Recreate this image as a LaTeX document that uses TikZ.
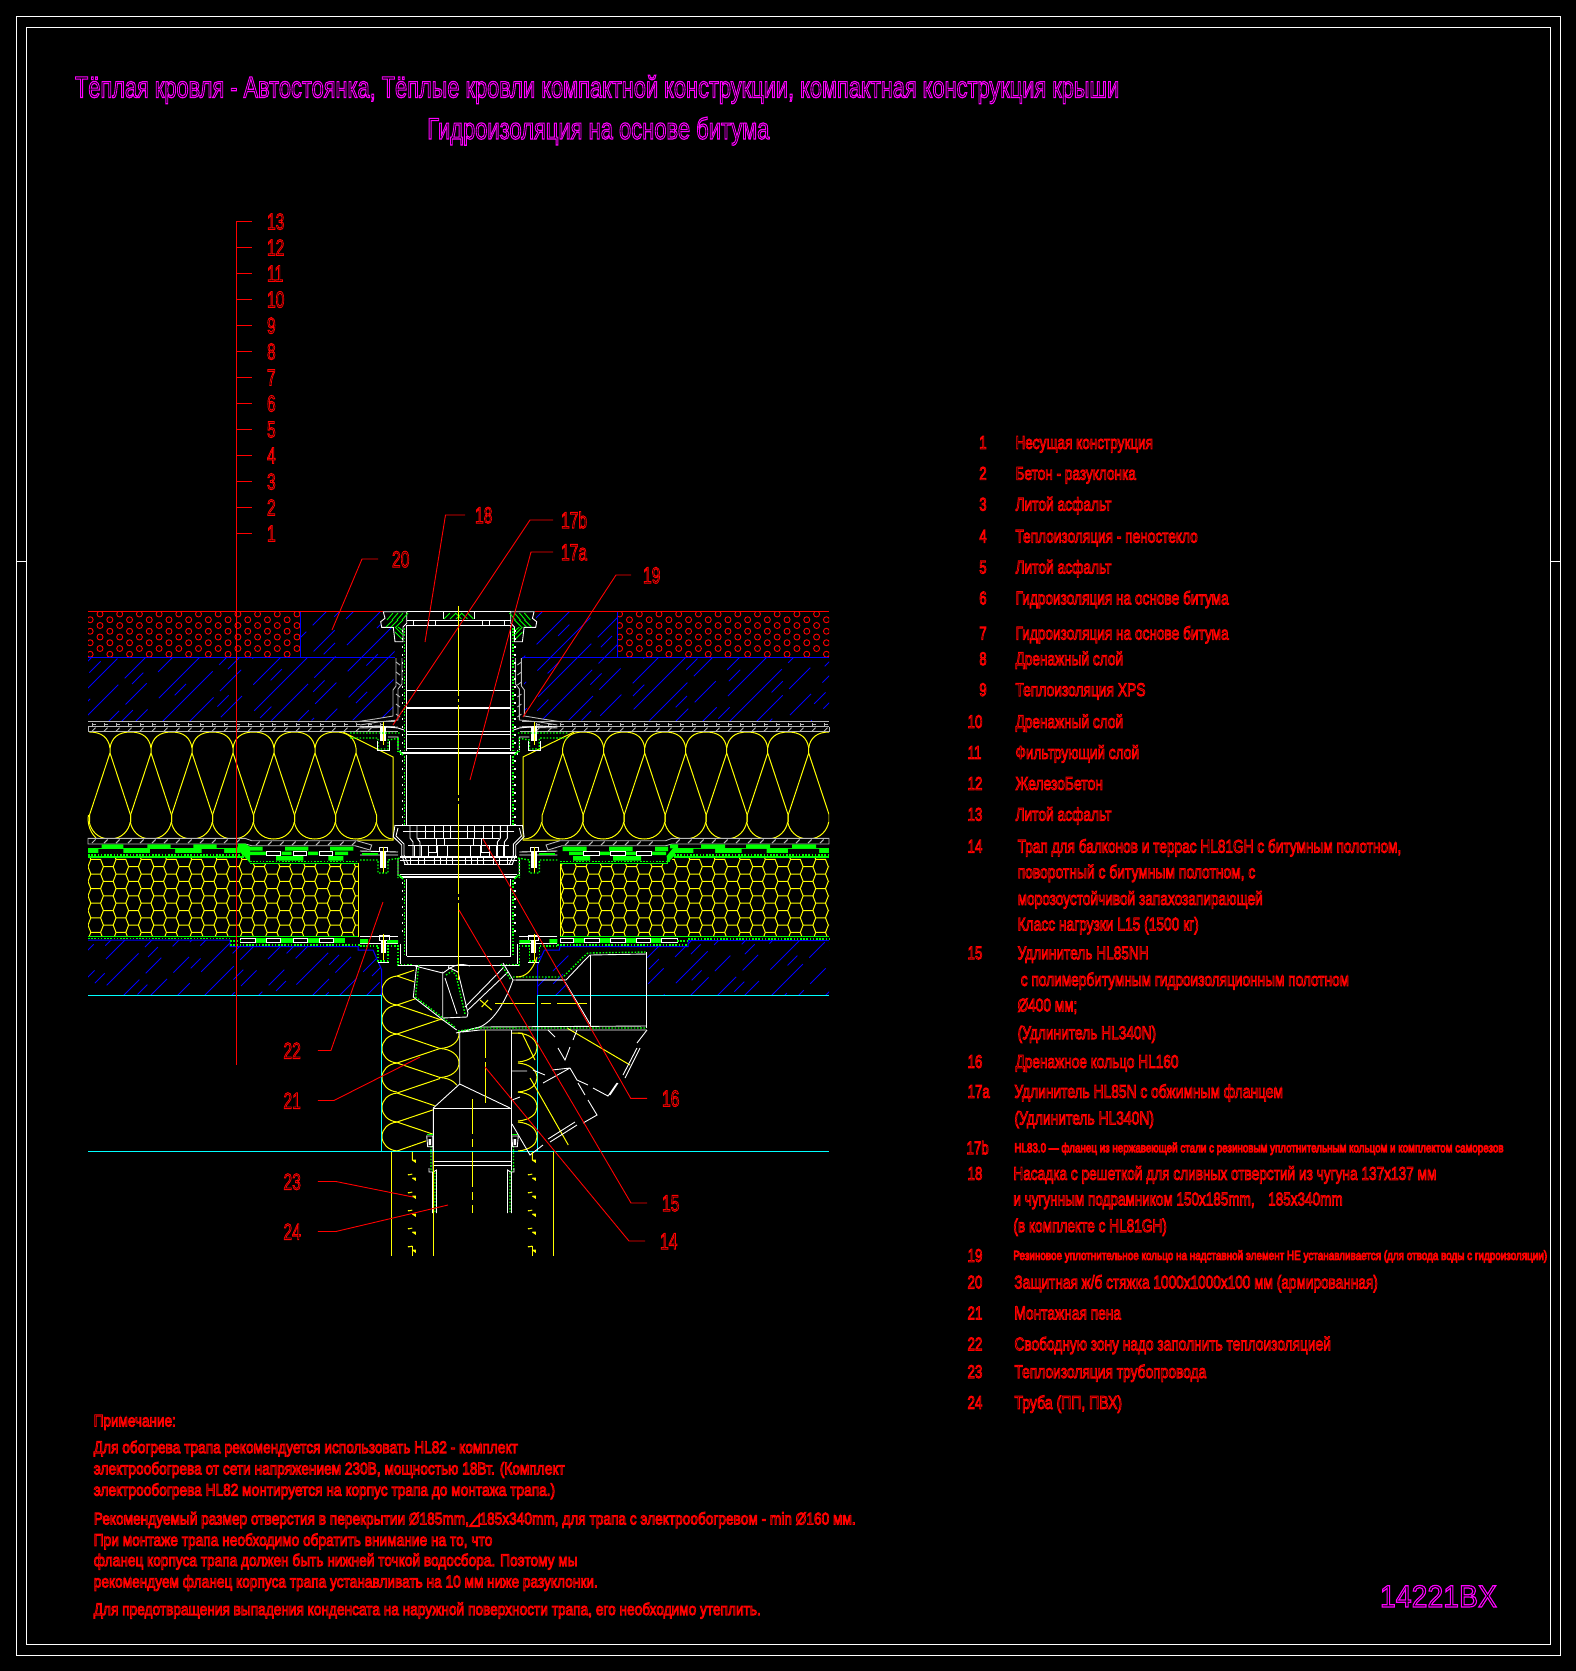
\documentclass[tikz,border=0pt]{standalone}
\usepackage{fontspec}
\usepackage{graphicx}
\setmainfont{Liberation Sans}
\newfontfamily\djv{DejaVu Sans}
\definecolor{cred}{rgb}{1,0,0}
\definecolor{cmag}{rgb}{1,0,1}
\definecolor{cgrn}{rgb}{0,1,0}
\definecolor{cyel}{rgb}{1,1,0}
\definecolor{cblu}{rgb}{0,0,1}
\definecolor{ccya}{rgb}{0,1,1}
\definecolor{cgry}{gray}{0.72}
\newcommand\olon{\special{pdf:code 1 Tr 0.95 w}}
\newcommand\olbig{\special{pdf:code 1 Tr 1.15 w}}
\newcommand\oloff{\special{pdf:code 0 Tr}}
\newlength\du \du=1.0656pt
\tikzset{
 wh/.style={draw=white,line width=.9pt},
 wk/.style={draw=white,line width=2pt},
 gn/.style={draw=cgrn,line width=.9pt},
 gd/.style={draw=cgrn,line width=1.4pt,dash pattern=on 1.6pt off 1.6pt},
 wr/.style={draw=white,line width=.9pt,fill=black},
 yl/.style={draw=cyel,line width=1pt},
 gy/.style={draw=cgry,line width=.9pt},
 bl/.style={draw=cblu,line width=.8pt},
 cy/.style={draw=ccya,line width=.9pt},
 rd/.style={draw=cred,line width=.9pt},
 leader/.style={draw=cred,line width=.9pt},
 txt/.style={inner sep=0pt,outer sep=0pt,text=cred,anchor=base west},
}
\newcommand\TL[4]{\node[txt] at ({#1*1.0656},{#2*1.0656+6.6}) {\resizebox{\dimexpr#3\du-#1\du\relax}{\height}{\fontsize{18.5}{20}\selectfont\olon #4\oloff}};}
\newcommand\TS[4]{\node[txt] at ({#1*1.0656},{#2*1.0656+4.6}) {\resizebox{\dimexpr#3\du-#1\du\relax}{\height}{\fontsize{13}{15}\selectfont\olon #4\oloff}};}
\newcommand\TN[4]{\node[txt] at ({#1*1.0656},{#2*1.0656+6}) {\resizebox{\dimexpr#3\du-#1\du\relax}{\height}{\fontsize{17}{19}\selectfont\olon #4\oloff}};}
\newcommand\NUM[3]{\node[txt] at ({#1*1.0656},{#2*1.0656+6.6}) {\scalebox{.72}[1]{\fontsize{18.5}{20}\selectfont\olon #3\oloff}};}
\newcommand\BIG[4]{\node[txt] (#1) at (#2,#3+8.2) {\scalebox{.68}[1]{\fontsize{23}{25}\selectfont\olon #4\oloff}};}
% batting loops between necks
\newcommand\toparc[2]{\draw[yl] (#1,748) .. controls (#1+1.5,738) and (#1+8,732) .. (#1+20.5,732) .. controls (#2-8,732) and (#2-1.5,738) .. (#2,748);}
\newcommand\botarc[2]{\draw[yl] (#1,822) .. controls (#1+1.5,830) and (#1+8,839) .. (#1+20.5,839) .. controls (#2-8,839) and (#2-1.5,830) .. (#2,822);}
\newcommand\strands[1]{\draw[yl] (#1-20.5,822) -- (#1-20.5,815) -- (#1,753) -- (#1,748) (#1,753) -- (#1+20.5,815) -- (#1+20.5,822);}
% hexagon field
\newcommand\hexfield[3]{\foreach \cc in {0,...,#1}{\foreach \rr in {0,...,6}{%
 \pgfmathsetmacro\cxx{#2+\cc*12.6}\pgfmathsetmacro\cyy{#3+\rr*14.6+7.3*mod(\cc,2)}%
 \draw[yl] (\cxx-4.9,\cyy-7.3) -- (\cxx+4.9,\cyy-7.3) -- (\cxx+7.7,\cyy) -- (\cxx+4.9,\cyy+7.3);}}}
\newcommand\grayrow[4]{\foreach \xx in {#1,#4,...,#2}{\draw[gy] (\xx,#3+3.6) -- (\xx+3.6,#3);}}
% half of the drain body (left half, mirrored for the right)
\newcommand\halfdrain{%
 \draw[wh] (383.3,611.7) -- (385,618.3) -- (380.7,621.7) -- (381.7,627.3) -- (393.3,627.3) -- (395,641.7) -- (403,641.7) -- (403,627) -- (406.7,623.3) -- (406.7,611.7) -- cycle;
 \foreach \xx in {388,393,398,403}{\draw[gn] (\xx-1,620) -- (\xx+5,613);}
 \foreach \xx in {386,391,396}{\draw[gn] (\xx,627) -- (\xx+7,620);}
 \draw[gn] (395,632) -- (403,640) (395,627) -- (403,635) (398,627) -- (403,631);
 \draw[wh] (406.7,611.7) -- (458.7,611.7) (406.7,620) -- (458.7,620) (406.7,625) -- (458.7,625);
 \foreach \xx in {413,428,435}{\draw[wh] (\xx,620) -- (\xx,625);}
 \draw[wh] (443.3,612) -- (443.3,619);
 \foreach \xx in {444,450,456}{\draw[gn] (\xx,619) -- (\xx+6,613);}
 % sleeve
 \draw[gy] (396,658) -- (396,686) -- (393,690) -- (393,716) -- (375,719) -- (355,722);
 \draw[gy] (402,658) -- (402,684) -- (398,689) -- (398,720) -- (378,722) -- (360,725);
 \foreach \yy in {662,672,682,694,704,714}{\draw[gy] (396,\yy) -- (400,\yy+3);}
 % walls with thread scallops
 \draw[wh] (406.7,625) -- (406.7,751) (406.7,755) -- (406.7,825) (406.7,879) -- (406.7,956);
 \draw[gd] (404.3,628) -- (404.3,750) (404.3,756) -- (404.3,825) (404.3,880) -- (404.3,956);
 \draw[draw=white,line width=1.6pt,dash pattern=on 2pt off 6pt] (402.5,630) -- (402.5,750) (402.5,760) -- (402.5,825) (402.5,882) -- (402.5,935);
 % full-width bars
 \draw[wh] (406.7,690) -- (458.7,690) (406.7,731.7) -- (458.7,731.7) (406.7,734) -- (458.7,734) (406.7,748.3) -- (458.7,748.3);
 \draw[wk] (406.7,708.3) -- (458.7,708.3) (400,752.5) -- (458.7,752.5) (400,877) -- (458.7,877);
 \draw[wh] (400,874.5) -- (458.7,874.5) (400,750) -- (400,755);
 \draw[gn,line width=1.5pt] (399,751) -- (403,755) (399,875) -- (403,879);
 % first clamp
 \draw[gy] (360,728) -- (398,727);
 \draw[wh] (360,727) -- (378,726) -- (398,728) -- (404,730) (388,737) -- (398,737) -- (398,750);
 \fill[white] (380,727) rectangle (386,741);
 \draw[yl] (383.3,722) -- (383.3,745);
 \draw[gd] (350,733) -- (400,733) (350,738) -- (378,738) -- (378,749) -- (388,749) -- (388,740) -- (400,738);
 \draw[gd] (398,738) -- (398,752);
 \draw[wh] (377,741) -- (377,750) -- (389,750) -- (389,741);
 % grating
 \draw[wh] (395,825) -- (393.3,836.7) -- (401.7,845) -- (401.7,855) -- (405,864);
 \draw[wh] (398,828) -- (396,836) -- (404,844) -- (404,855) -- (408,864);
 \draw[wh] (395,825) -- (458.7,825) (403,831.7) -- (458.7,831.7) (418,838) -- (458.7,838) (408,845) -- (458.7,845);
 \draw[wh,line width=1.2pt] (400,857) -- (458.7,857);
 \draw[wh] (400,860) -- (458.7,860) (404,864) -- (458.7,864);
 \foreach \xx in {410,417}{\draw[wh] (\xx,825) -- (\xx,838) -- (\xx+3,842) -- (\xx+3,856);}
 \foreach \xx in {425,434,443,450}{\draw[wh] (\xx,825) -- (\xx,838);}
 \foreach \xx in {414,421,428,437,447}{\draw[wh] (\xx,845) -- (\xx,856);}
 \foreach \xx in {410,418,424,434,440,446,452}{\draw[wh] (\xx,858) -- (\xx,864);}
 \draw[wr] (436,838) rectangle (444,845) (428,845) rectangle (436,852);
 % second clamp
 \draw[wh] (360,851) -- (398,852) (360,855) -- (398,855) (398,858) -- (398,876);
 \fill[cgrn] (362,852.5) rectangle (378,855);
 \fill[white] (380,851) rectangle (386,868);
 \draw[wh] (379,847) rectangle (387,851);
 \draw[yl] (383.3,847) -- (383.3,873);
 \draw[gd] (360,860) -- (378,860) -- (378,873) -- (388,873) -- (388,860) -- (400,858) (398,858) -- (398,878);
 % third clamp
 \draw[wh] (360,936) -- (398,936) (379,935) rectangle (389,940) (360,943.5) -- (398,943.5);
 \fill[cgrn] (360,939) rectangle (368,943) (387,940) rectangle (398,943);
 \fill[white] (381,941) rectangle (386,953);
 \draw[yl] (383,934) -- (383,961);
 \draw[gd] (360,946) -- (378,946) -- (378,961) -- (388,961) -- (388,946) -- (398,946) -- (398,965) -- (413,965);
 \draw[wh] (378,962) -- (389,962) (400,943.5) -- (400,964);
 \draw[wh] (406.7,956.7) -- (458.7,956.7) (398,965) -- (458.7,965);
}
\begin{document}
\begin{tikzpicture}[x=1pt,y=-1pt,line cap=butt]
\useasboundingbox (0,0) rectangle (1576,1671);
\fill[black] (0,0) rectangle (1576,1671);
% ---- frames
\draw[wh,line width=1.2pt] (16.5,16.5) rectangle (1560.7,1655.3);
\draw[wh,line width=1.2pt] (26.5,27.5) rectangle (1550.3,1644.3);
\draw[wh] (16.5,561) -- (26.5,561) (1550.3,561) -- (1560.7,561);
% ---- red aggregate
\begin{scope}
 \clip (88,611.5) rectangle (300,657) (617.4,611.5) rectangle (829,657);
 \foreach \rr in {0,...,7}{
  \pgfmathsetmacro\yy{614+\rr*5.75}
  \pgfmathsetmacro\ss{mod(\rr,2)*(-9.85)}
  \foreach \jj in {0,...,11}{\draw[rd] ({100+\ss+\jj*19.7},\yy) circle (3);}
  \foreach \jj in {0,...,11}{\draw[rd] ({619.6+\ss+\jj*19.7},\yy) circle (3);}
 }
\end{scope}
% ---- blue hatch, upper
\begin{scope}
 \clip (300,612) -- (382,612) -- (380,628) -- (393,628) -- (395,657) -- (393,690) -- (393,716) -- (370,720) -- (88,722) -- (88,657) -- (300,657) -- cycle
       (617.4,612) -- (535.4,612) -- (537.4,628) -- (524.4,628) -- (522.4,657) -- (524.4,690) -- (524.4,716) -- (547.4,720) -- (829,722) -- (829,657) -- (617.4,657) -- cycle;
 \foreach \ii in {0,...,36}{
  \pgfmathsetmacro\xa{-30+\ii*27}
  \pgfmathsetmacro\ph{mod(\ii*37,130)}
  \pgfmathsetmacro\pq{mod(\ii*53,90)}
  \draw[bl,dash pattern=on 75pt off 9pt on 30pt off 16pt,dash phase=\ph pt] (\xa,725) -- (\xa+120,605);
  \draw[bl,dash pattern=on 16pt off 74pt,dash phase=\pq pt] (\xa+13,725) -- (\xa+133,605);
 }
\end{scope}
% ---- blue hatch, lower
\begin{scope}
 \clip (88,940) -- (230,940) -- (230,947) -- (358,947) -- (358,950) -- (373,950) -- (381.7,970) -- (381.7,995) -- (88,995) -- cycle
       (537.7,946) -- (582,946) -- (582,960) -- (563,980) -- (575,995) -- (537.7,995) -- cycle
       (647,946) -- (688,946) -- (688,941) -- (829,941) -- (829,995) -- (647,995) -- cycle;
 \foreach \ii in {0,...,34}{
  \pgfmathsetmacro\xa{40+\ii*27}
  \pgfmathsetmacro\ph{mod(\ii*37,130)}
  \pgfmathsetmacro\pq{mod(\ii*53,90)}
  \draw[bl,dash pattern=on 45pt off 9pt on 22pt off 16pt,dash phase=\ph pt] (\xa,998) -- (\xa+65,933);
  \draw[bl,dash pattern=on 14pt off 60pt,dash phase=\pq pt] (\xa+13,998) -- (\xa+78,933);
 }
\end{scope}
% ---- lines of layers
\draw[rd] (88,611.3) -- (383,611.3) (535,611.3) -- (829,611.3);
\draw[bl,line width=1pt] (88,657.3) -- (395,657.3) (522,657.3) -- (829,657.3) (300,611.5) -- (300,657.3) (617.4,611.5) -- (617.4,657.3);
\draw[bl,line width=1pt] (88,940) -- (230,940) -- (230,946.7) -- (358,946.7) -- (358,950) -- (373,950) -- (381.7,970) -- (381.7,995);
\draw[bl,line width=1pt] (829,940.7) -- (688,940.7) -- (688,946.7) -- (560,946.7) -- (559.4,950) -- (544.4,950) -- (537.7,965) -- (537.7,995);
\draw[cy] (88,995.3) -- (381.7,995.3) -- (381.7,1151.5) (537.7,995.3) -- (829,995.3) (537.7,995.3) -- (537.7,1151.5) (88,1151.5) -- (829,1151.5);
% ---- insulation batting
\begin{scope}
 \clip (88,730) rectangle (395,842) (522,730) rectangle (829,842);
 \foreach \aa [evaluate=\aa as \bb using \aa+41] in {110,151,192,233,274,315}{\toparc{\aa}{\bb}}
 \foreach \aa [evaluate=\aa as \bb using \aa+41] in {89.3,130.3,171.3,212.3,253.3,294.3,335.3}{\botarc{\aa}{\bb}}
 \foreach \aa in {110,151,192,233,274,315,356}{\strands{\aa}}
 \draw[yl] (110,748) .. controls (108.5,738) and (102,732) .. (89.5,732);
 \draw[yl] (376.3,822) .. controls (378,830) and (384,839) .. (393,839);
 \foreach \aa [evaluate=\aa as \bb using \aa+41] in {562.7,603.7,644.7,685.7,726.7,767.7}{\toparc{\aa}{\bb}}
 \foreach \aa [evaluate=\aa as \bb using \aa+41] in {541.7,582.7,623.7,664.7,705.7,746.7,787.7}{\botarc{\aa}{\bb}}
 \foreach \aa in {562.7,603.7,644.7,685.7,726.7,767.7,808.7}{\strands{\aa}}
 \draw[yl] (808.7,748) .. controls (810,738) and (817,732) .. (829,732);
 \draw[yl] (541.7,822) .. controls (540,830) and (534,839) .. (524,839);
\end{scope}
\draw[yl] (88.5,815) .. controls (87.5,820) and (88,830) .. (96,838);
\draw[yl] (343,732) -- (393,757) -- (393,840) -- (357,840);
\draw[yl] (574,732) -- (523,757) -- (523,840) -- (560,840);
% ---- gray layers
\draw[gy] (88,721.7) -- (395,721.7) (88,726.5) -- (395,726.5) (88,731.7) -- (398,731.7) (88,726.5) -- (88,731.7);
\draw[gy] (522,721.7) -- (829,721.7) (522,726.5) -- (829,726.5) (520,731.7) -- (829,731.7) (829,726.5) -- (829,731.7);
\grayrow{92}{380}{727.6}{104}
\grayrow{536}{824}{727.6}{548}
\foreach \xx in {92,104,...,380}{\draw[gy] (\xx,725.5) -- (\xx,722.5) (\xx,724) -- (\xx+4,724);}
\foreach \xx in {536,548,...,824}{\draw[gy] (\xx,725.5) -- (\xx,722.5) (\xx,724) -- (\xx+4,724);}
\draw[gy,fill=black] (88,838.3) -- (245,838.3) -- (251.7,840.7) -- (356.7,840.7) -- (371.7,845) -- (370,850) -- (355,845.7) -- (251.7,845.7) -- (245,844) -- (88,844) -- cycle;
\grayrow{92}{240}{839.5}{104}
\grayrow{256}{352}{841.5}{268}
\draw[gy,fill=black] (829,838.3) -- (672,838.3) -- (665.7,840.7) -- (560,840.7) -- (546,845) -- (548,850) -- (562,845.7) -- (665.7,845.7) -- (672,844) -- (829,844) -- cycle;
\grayrow{676}{825}{839.5}{688}
\grayrow{565}{660}{841.5}{577}
% ---- hexagons
\begin{scope}
 \clip (88,857) -- (245,857) -- (250,863) -- (358,863) -- (358,936.5) -- (88,936.5) -- cycle;
 \hexfield{22}{83.1}{859.4}
\end{scope}
\begin{scope}
 \clip (560,863) -- (668,863) -- (675,857) -- (829,857) -- (829,936.5) -- (560,936.5) -- cycle;
 \hexfield{22}{556}{859.4}
\end{scope}
\draw[yl] (358,863) -- (358,936.5) (560,863) -- (560,936.5);
% ---- green membrane upper, left
\fill[cgrn] (88,848.3) rectangle (240,853.3);
\fill[black] (98.3,849) rectangle (123.3,853.3) (150,849) rectangle (175,853.3) (201.7,849) rectangle (224,853.3);
\fill[cgrn] (101.7,844.3) rectangle (123.3,848.3) (147.3,844.3) rectangle (170.7,848.3) (193.3,844.3) rectangle (216.7,848.3);
\fill[cgrn] (238.3,843.5) -- (245,843.5) -- (250,846.7) -- (250,863) -- (244,856) -- (237,849) -- cycle;
\draw[gd] (88,855) -- (244,855);
\draw[gn,line width=1.2pt] (88,857) -- (244,857);
\fill[cgrn] (250,846.7) rectangle (262.7,850.7) (285,846.7) rectangle (308.3,850.7) (330,846.7) rectangle (353.3,850.7);
\fill[cgrn] (250,851.7) rectangle (266.7,855) (281.7,851.7) rectangle (291.7,855) (308,851.7) rectangle (318,855) (335,851.7) rectangle (348,855);
\draw[wr] (266.7,851.7) rectangle (280,855) (293.3,851.7) rectangle (306.7,855) (319.3,851.7) rectangle (332.7,855);
\fill[cgrn] (276,856) rectangle (303.3,860.7) (328.3,856) rectangle (343.3,860.7);
\draw[gd] (250,861.5) -- (358,861.5);
\draw[gn,line width=1.2pt] (250,863.4) -- (358,863.4);
% ---- green membrane upper, right
\fill[cgrn] (674,848.3) rectangle (829,853.3);
\fill[black] (693.3,848.8) rectangle (715,853) (741.7,848.8) rectangle (766.7,853) (788,848.8) rectangle (819,853);
\fill[cgrn] (670,844.3) rectangle (678,848.3) (701,844.3) rectangle (725,848.3) (746,844.3) rectangle (770,848.3) (792,844.3) rectangle (816,848.3);
\fill[cgrn] (666.7,856) -- (675,845.5) -- (675,855) -- (667,863.4) -- cycle;
\draw[gd] (674,855) -- (829,855);
\draw[gn,line width=1.2pt] (674,857) -- (829,857);
\fill[cgrn] (562.7,846.7) rectangle (586.7,851) (609,846.7) rectangle (632.7,851) (655,846.7) rectangle (668,851);
\fill[cgrn] (569,851.7) rectangle (583.3,855) (599.3,851.7) rectangle (610,855) (625.3,851.7) rectangle (636,855) (651.7,851.7) rectangle (666,855);
\draw[wr] (583.3,851.7) rectangle (599.3,855) (610,851.7) rectangle (625.3,855) (636,851.7) rectangle (651.7,855);
\fill[cgrn] (573,856) rectangle (590,860.7) (613,856) rectangle (641,860.7);
\draw[gd] (560,861.5) -- (670,861.5);
\draw[gn,line width=1.2pt] (560,863.4) -- (668,863.4);
% ---- green membrane lower, left
\draw[gn,line width=1.2pt] (88,936.5) -- (358,936.5);
\draw[gd] (88,938.6) -- (230,938.6);
\fill[cgrn] (240,938.3) rectangle (345,942.7);
\draw[wr] (240,938.3) rectangle (255,942.7) (266.7,938.3) rectangle (280.7,942.7) (293.3,938.3) rectangle (307.3,942.7) (319.3,938.3) rectangle (333.3,942.7);
\draw[gd] (230,941) -- (240,941) (230,945) -- (360,945);
% ---- green membrane lower, right
\draw[gn,line width=1.2pt] (560,936.7) -- (829,936.7);
\draw[gd] (688,938.8) -- (829,938.8);
\fill[cgrn] (560,938) rectangle (677,942.7);
\draw[wr] (560,938) rectangle (573,942.7) (584,938) rectangle (599.3,942.7) (610,938) rectangle (625,942.7) (636,938) rectangle (650.7,942.7) (661.7,938) rectangle (677.3,942.7);
\draw[gd] (677,941) -- (688,941) (557,945) -- (688,945);
% ---- drain body, both halves
\halfdrain
\begin{scope}[shift={(917.4,0)},xscale=-1]
 \halfdrain
\end{scope}
% ---- lower insulation (horizontal batting)
\begin{scope}
 \clip (382,966) -- (414,966) -- (414,998) -- (441,1018) -- (459,1032) -- (459,1083) -- (433,1107) -- (433,1134) -- (426,1136) -- (426,1151) -- (382,1151) -- cycle;
 \foreach \yy in {976,1005,1034,1063,1093,1122}{
  \draw[yl] (397,\yy) .. controls (388,\yy+1) and (382,\yy+7) .. (382,\yy+14.5) .. controls (382,\yy+22) and (388,\yy+28) .. (397,\yy+29);
  \draw[yl] (397,\yy) -- (440,\yy-14.5) (397,\yy) -- (440,\yy+14.5);
  \draw[yl] (440,\yy+14.5) .. controls (451,\yy+15) and (459,\yy+21) .. (459,\yy+29) .. controls (459,\yy+37) and (451,\yy+43) .. (440,\yy+43.5);
 }
 \draw[yl] (397,1151) -- (440,1136);
\end{scope}
% ---- right-hand narrow insulation
\begin{scope}
 \clip (512,1030) rectangle (538,1151);
 \foreach \yy in {1033,1063,1092,1122}{
  \draw[yl] (518,\yy) .. controls (530,\yy+1) and (537,\yy+7) .. (537,\yy+15) .. controls (537,\yy+22) and (530,\yy+28) .. (518,\yy+29);
 }
\end{scope}
\draw[yl] (512,1033) -- (522,1033) -- (535,1060) (530,1078) -- (537,1090) -- (568.3,1145);
\draw[yl] (567,1028) -- (630,1065);
% ---- funnel, trap and branch
\draw[wh] (416.7,965) -- (413.3,997) -- (443,1020) -- (456.7,1030);
\draw[gd] (418.7,965) -- (415.5,997) -- (443,1018) -- (456,1028);
\draw[wh] (442.7,971.7) -- (442.7,1018) -- (467,1017);
\draw[wh] (415,966) -- (442.7,973);
\draw[wh] (443,973) -- (450,968) -- (458,972) -- (468,1013) -- (467,1017);
\draw[gd] (446,975) -- (452,971) -- (456,975) -- (465,1014);
\draw[wh] (445,978) -- (457,1014);
\draw[wh] (465,1007) -- (503,968) (468,1010) -- (508,972);
\draw[wh] (449,965) .. controls (447,975) and (452,960) .. (470,966);
\draw[wh] (503,963) -- (513,980) .. controls (506,1000) and (495,1020) .. (480,1027) -- (460,1032);
\draw[gd] (501,964) -- (511,980);
\draw[wh] (513,980) -- (565,980) (565,982) -- (580,1007) -- (590,1024);
\draw[gd] (513,977) -- (563,977) -- (582,958) -- (588,953) -- (646.7,952);
\draw[wh] (516,980) -- (566,980) -- (584,961) -- (590,955) -- (646.7,954);
\draw[wh] (590,955) -- (590,1027) (646.7,952) -- (646.7,1028);
\draw[wh] (456,1033) -- (480,1027) -- (646.7,1026) (462,1032) -- (480,1030) -- (646.7,1030);
\draw[gd] (458,1031) -- (480,1028) -- (646.7,1028);
\draw[yl,dash pattern=on 40pt off 6pt on 10pt off 6pt] (495,1003.3) -- (587,1003.3);
\draw[yl] (480,1000) -- (491.7,1010) (481.7,1007) -- (488,1000);
\draw[yl] (516,977) .. controls (525,977) and (532,972) .. (537,957);
% lower pipe
\draw[wh] (459.7,1031.7) -- (459.7,1084) -- (433.3,1108) -- (433.3,1164) (459.7,1084) -- (510,1108);
\draw[wh] (511.5,1030) -- (511.5,1164) (433.3,1108) -- (511.5,1108) (433.3,1161.7) -- (511.5,1161.7) (433.3,1165.7) -- (511.5,1165.7);
\draw[yl] (485.3,1030) -- (485.3,1058) (485.3,1062) -- (485.3,1103);
\draw[yl,dash pattern=on 35pt off 5pt on 8pt off 5pt] (472.3,1099) -- (472.3,1213);
\draw[gd] (431,1146) -- (431,1170) -- (435,1172) -- (435,1212) (513.5,1146) -- (513.5,1170) -- (510,1172) -- (510,1212);
\draw[wh] (433,1146) -- (433,1170) (429,1168) -- (429,1172) -- (433,1172) -- (436.5,1170) -- (436.5,1213) (432.5,1172) -- (432.5,1213) (511.5,1146) -- (511.5,1170) (514,1168) -- (514,1172) -- (510.5,1172) -- (507.5,1170) -- (507.5,1213) (511.5,1172) -- (511.5,1213);
\draw[wh] (426.7,1136) -- (432.7,1136) -- (432.7,1146.7) -- (427.7,1146.7) -- cycle (511.7,1136) -- (518.3,1136) -- (517.3,1146.7) -- (512.7,1146.7) -- cycle;
\draw[gn] (427,1134) -- (433,1134) (512,1134) -- (518,1134);
\fill[white] (428.5,1139) rectangle (431,1145) (513.5,1139) rectangle (516,1145);
% branch dashed
\draw[wh] (548,1030) -- (555,1037) (577,1030) -- (573,1040) (558,1048) -- (565,1060) -- (570,1047) (570,1068) -- (577,1080) -- (588,1085) (578,1083) -- (585,1095) (593,1088) -- (608,1096) -- (617,1083) (610,1095) -- (618,1083) (623,1075) -- (637,1048) (625,1078) -- (640,1048) (637,1043) -- (647,1030) (588,1100) -- (597,1115) -- (583,1123) (577,1125) -- (550,1142) (575,1122) -- (548,1139) (512,1124) -- (530,1155) -- (543,1145);
\draw[wh] (512,1071) -- (527,1071) (533,1070) -- (545,1075) (552,1070) -- (570,1068) (543,1083) -- (570,1068) (512,1100) -- (520,1097);
% pipe jacket
\draw[yl] (391,1151.5) -- (391,1256) (433.3,1151.5) -- (433.3,1256) (553.3,1151.5) -- (553.3,1256);
\foreach \xo in {412.3,532.3}{
 \draw[yl] (\xo,1152) -- (\xo,1160) (\xo,1160) -- (\xo+3,1162) -- (\xo+3,1160) -- (\xo,1160);
 \foreach \yy in {1175,1193,1211,1229,1247}{
  \draw[yl] (\xo-4,\yy) -- (\xo+0,\yy-1) (\xo-4,\yy+0) -- (\xo-4,\yy-1) (\xo+0,\yy+3) -- (\xo+3,\yy+5) -- (\xo+3,\yy+3) -- (\xo,\yy+3);
 }
 \draw[yl] (\xo-4,1246) -- (\xo,1246) -- (\xo,1256);
}
% axis
\draw[yl,dash pattern=on 90pt off 3pt on 3pt off 3pt] (458.7,606) -- (458.7,960);
\draw[yl] (458.7,960) -- (458.7,980);
% ---- left column of numbers
\draw[rd] (236.3,221.3) -- (236.3,1065);
\foreach \nn [count=\kk from 0] in {13,12,11,10,9,8,7,6,5,4,3,2,1}{
 \pgfmathsetmacro\yy{221.3+\kk*26}
 \BIG{s\nn}{267}{\yy}{\nn}
 \draw[rd] ([shift={(-15.3,-8.2)}]s\nn.base west) -- ++(-15.4,0);
}
% ---- callouts
\BIG{n20}{392}{559}{20}
\coordinate (t20) at (332,630);
\draw[leader] ([shift={(-14,-8.2)}]n20.base west) -- ++(-16,0) -- (t20);
\BIG{n18}{475}{515}{18}
\coordinate (t18) at (425,642);
\draw[leader] ([shift={(-10,-8.2)}]n18.base west) -- ++(-19.5,0) -- (t18);
\BIG{n17b}{561}{520}{17b}
\coordinate (t17b) at (393,725);
\draw[leader] ([shift={(-8,-8.2)}]n17b.base west) -- ++(-23,0) -- (t17b);
\BIG{n17a}{561}{552}{17a}
\coordinate (t17a) at (470,780);
\draw[leader] ([shift={(-8,-8.2)}]n17a.base west) -- ++(-22,0) -- (t17a);
\BIG{n19}{643}{575}{19}
\coordinate (t19) at (523,717);
\draw[leader] ([shift={(-12,-8.2)}]n19.base west) -- ++(-15,0) -- (t19);
\BIG{n22}{283.5}{1050.5}{22}
\coordinate (t22) at (383,902);
\draw[leader] ([shift={(17,-8.2)}]n22.base east) -- ++(13,0) -- (t22);
\BIG{n21}{283.5}{1100.5}{21}
\coordinate (t21) at (420,1057);
\draw[leader] ([shift={(17,-8.2)}]n21.base east) -- ++(16,0) -- (t21);
\BIG{n23}{283.5}{1181.5}{23}
\coordinate (t23) at (413,1197);
\draw[leader] ([shift={(17,-8.2)}]n23.base east) -- ++(18,0) -- (t23);
\BIG{n24}{283.5}{1231.5}{24}
\coordinate (t24) at (448,1205);
\draw[leader] ([shift={(17,-8.2)}]n24.base east) -- ++(18,0) -- (t24);
\BIG{n16}{662}{1098.3}{16}
\coordinate (t16) at (483,839);
\draw[leader] ([shift={(-15,-8.2)}]n16.base west) -- ++(-16.3,0) -- (t16);
\BIG{n15}{662}{1203}{15}
\coordinate (t15) at (459,910);
\draw[leader] ([shift={(-15,-8.2)}]n15.base west) -- ++(-16,0) -- (t15);
\BIG{n14}{660}{1241}{14}
\coordinate (t14) at (485,1067);
\draw[leader] ([shift={(-15,-8.2)}]n14.base west) -- ++(-16,0) -- (t14);
% ---- titles
\node[txt,text=cmag] (title1) at (75,97.5) {\resizebox{1044pt}{\height}{\fontsize{30}{32}\selectfont\olbig Тёплая кровля - Автостоянка, Тёплые кровли компактной конструкции, компактная конструкция крыши\oloff}};
\node[txt,text=cmag] (title2) at (427.3,139) {\resizebox{342pt}{\height}{\fontsize{30}{32}\selectfont\olbig Гидроизоляция на основе битума\oloff}};
\node[txt,text=cmag] (code) at (1380,1607) {\resizebox{117pt}{\height}{\fontsize{31}{33}\selectfont\olbig 14221BX\oloff}};
% ---- legend
\NUM{919}{415}{1}\TL{953}{415}{1082}{Несущая конструкция}
\NUM{919}{444}{2}\TL{953}{444}{1066}{Бетон - разуклонка}
\NUM{919}{473}{3}\TL{953}{473}{1043}{Литой асфальт}
\NUM{919}{503}{4}\TL{953}{503}{1124}{Теплоизоляция - пеностекло}
\NUM{919}{532}{5}\TL{953}{532}{1043}{Литой асфальт}
\NUM{919}{561}{6}\TL{953}{561}{1153}{Гидроизоляция на основе битума}
\NUM{919}{594}{7}\TL{953}{594}{1153}{Гидроизоляция на основе битума}
\NUM{919}{618}{8}\TL{953}{618}{1054}{Дренажный слой}
\NUM{919}{647}{9}\TL{953}{647}{1075}{Теплоизоляция XPS}
\NUM{908}{677}{10}\TL{953}{677}{1054}{Дренажный слой}
\NUM{908}{706}{11}\TL{953}{706}{1069}{Фильтрующий слой}
\NUM{908}{735}{12}\TL{953}{735}{1035}{ЖелезоБетон}
\NUM{908}{764}{13}\TL{953}{764}{1043}{Литой асфальт}
\NUM{908}{794}{14}\TL{955}{794}{1315}{Трап для балконов и террас HL81GH с битумным полотном,}
\TL{955}{818}{1178}{поворотный  с битумным полотном, с}
\TL{955}{843}{1185}{морозоустойчивой запахозапирающей}
\TL{955}{867}{1125}{Класс нагрузки L15 (1500 кг)}
\NUM{908}{894}{15}\TL{955}{894}{1078}{Удлинитель HL85NH}
\TL{958}{919}{1266}{с полимербитумным гидроизоляционным полотном}
\TL{955}{943}{1011}{Ø400 мм;}
\TL{955}{969}{1085}{(Удлинитель HL340N)}
\NUM{908}{996}{16}\TL{953}{996}{1106}{Дренажное кольцо HL160}
\NUM{908}{1024}{17a}\TL{952}{1024}{1204}{Удлинитель HL85N с обжимным фланцем}
\TL{952}{1049}{1083}{(Удлинитель HL340N)}
\NUM{907}{1077}{17b}\TS{952}{1077}{1411}{HL83.0 — фланец из нержавеющей стали с резиновым уплотнительным кольцом и комплектом саморезов}
\NUM{908}{1101}{18}\TL{951}{1101}{1348}{Насадка с решеткой для сливных отверстий из чугуна 137x137 мм}
\TL{951}{1125}{1260}{и чугунным подрамником 150x185mm,\quad 185x340mm}
\TL{951}{1150}{1095}{(в комплекте с HL81GH)}
\NUM{908}{1178}{19}\TS{951}{1178}{1452}{Резиновое уплотнительное кольцо на надставной элемент НЕ устанавливается (для отвода воды с гидроизоляции)}
\NUM{908}{1203}{20}\TL{952}{1203}{1293}{Защитная ж/б стяжка 1000x1000x100 мм (армированная)}
\NUM{908}{1232}{21}\TL{952}{1232}{1052}{Монтажная пена}
\NUM{908}{1261}{22}\TL{952}{1261}{1249}{Свободную зону надо заполнить теплоизоляцией}
\NUM{908}{1287}{23}\TL{952}{1287}{1132}{Теплоизоляция трубопровода}
\NUM{908}{1316}{24}\TL{952}{1316}{1053}{Труба (ПП, ПВХ)}
% ---- notes
\TN{88}{1333}{165}{Примечание:}
\TN{88}{1358}{486}{Для обогрева трапа рекомендуется использовать HL82 - комплект}
\TN{88}{1378}{530}{электрообогрева от сети напряжением 230В, мощностью 18Вт. (Комплект}
\TN{88}{1398}{521}{электрообогрева HL82 монтируется на корпус трапа до монтажа трапа.)}
\TN{88}{1425}{803}{Рекомендуемый размер отверстия в перекрытии Ø185mm,{\djv ◿}185x340mm, для трапа с электрообогревом - min Ø160 мм.}
\TN{88}{1445}{462}{При монтаже трапа необходимо обратить внимание на то, что}
\TN{88}{1464}{542}{фланец корпуса трапа должен быть нижней точкой водосбора. Поэтому мы}
\TN{88}{1484}{561}{рекомендуем фланец корпуса трапа устанавливать на 10 мм ниже разуклонки.}
\TN{88}{1510}{714}{Для предотвращения выпадения конденсата на наружной поверхности трапа, его необходимо утеплить.}
\end{tikzpicture}
\end{document}
